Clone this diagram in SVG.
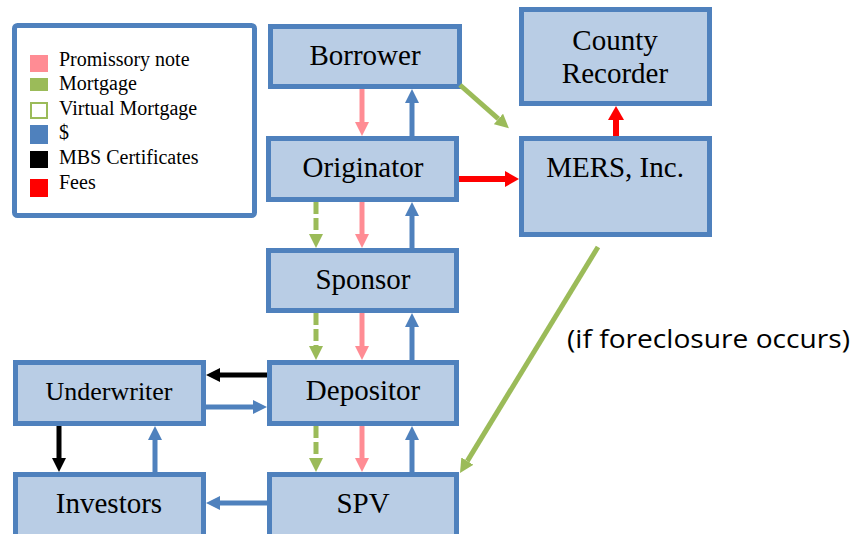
<svg xmlns="http://www.w3.org/2000/svg" width="854" height="534" viewBox="0 0 854 534">
<style>
.box{fill:#B9CDE5;stroke:#4F81BD;stroke-width:5}
.t{font-family:"Liberation Serif","Times New Roman",serif;font-size:29px;fill:#000;text-anchor:middle}
.lg{font-family:"Liberation Serif","Times New Roman",serif;font-size:20px;fill:#000}
.a{fill:none;stroke-width:5}
.pink{stroke:#FF8C94}
.green{stroke:#9BBB59}
.blue{stroke:#4F81BD}
.black{stroke:#000}
.red{stroke:#FF0000;stroke-width:6}
.dash{stroke-dasharray:12 4}
</style>
<defs>
<marker id="hp" markerUnits="userSpaceOnUse" markerWidth="14" markerHeight="14" refX="0" refY="7" orient="auto"><path d="M0,0 L14,7 L0,14 z" fill="#FF8C94"/></marker>
<marker id="hg" markerUnits="userSpaceOnUse" markerWidth="14" markerHeight="14" refX="0" refY="7" orient="auto"><path d="M0,0 L14,7 L0,14 z" fill="#9BBB59"/></marker>
<marker id="hb" markerUnits="userSpaceOnUse" markerWidth="14" markerHeight="14" refX="0" refY="7" orient="auto"><path d="M0,0 L14,7 L0,14 z" fill="#4F81BD"/></marker>
<marker id="hk" markerUnits="userSpaceOnUse" markerWidth="14" markerHeight="14" refX="0" refY="7" orient="auto"><path d="M0,0 L14,7 L0,14 z" fill="#000"/></marker>
<marker id="hr" markerUnits="userSpaceOnUse" markerWidth="16" markerHeight="16" refX="0" refY="8" orient="auto"><path d="M0,0 L14,8 L0,16 z" fill="#FF0000"/></marker>
</defs>

<g id="legend">
<rect x="14.5" y="25.5" width="240" height="190" rx="3" fill="#fff" stroke="#4F81BD" stroke-width="5"/>
<rect x="30" y="55" width="18" height="17" fill="#FF8C94"/>
<text class="lg" x="59" y="66">Promissory note</text>
<rect x="30" y="78" width="18" height="13" fill="#9BBB59"/>
<text class="lg" x="59" y="90">Mortgage</text>
<rect x="31" y="103" width="16" height="15" fill="#fff" stroke="#9BBB59" stroke-width="2"/>
<text class="lg" x="59" y="115">Virtual Mortgage</text>
<rect x="30" y="125" width="18" height="19" fill="#4F81BD"/>
<text class="lg" x="59" y="139">$</text>
<rect x="30" y="151" width="18" height="17" fill="#000"/>
<text class="lg" x="59" y="164">MBS Certificates</text>
<rect x="30" y="179" width="18" height="18" fill="#FF0000"/>
<text class="lg" x="59" y="189">Fees</text>
</g>

<g id="borrower"><rect class="box" x="270.5" y="26.5" width="189" height="60"/><text class="t" x="365" y="65">Borrower</text></g>
<g id="originator"><rect class="box" x="268.5" y="138.5" width="188" height="61"/><text class="t" x="363" y="177">Originator</text></g>
<g id="sponsor"><rect class="box" x="268.5" y="250.5" width="188" height="60"/><text class="t" x="363" y="289">Sponsor</text></g>
<g id="depositor"><rect class="box" x="269.5" y="362.5" width="187" height="61"/><text class="t" x="363" y="400">Depositor</text></g>
<g id="spv"><rect class="box" x="269.5" y="474.5" width="187" height="70"/><text class="t" x="363" y="513">SPV</text></g>
<g id="underwriter"><rect class="box" x="15.5" y="362.5" width="188" height="61"/><text class="t" x="109" y="400" style="font-size:26px">Underwriter</text></g>
<g id="investors"><rect class="box" x="15.5" y="474.5" width="188" height="70"/><text class="t" x="109" y="513">Investors</text></g>
<g id="county-recorder"><rect class="box" x="521.5" y="9.5" width="188" height="94"/><text class="t" x="615" y="50">County</text><text class="t" x="615" y="83">Recorder</text></g>
<g id="mers"><rect class="box" x="521.5" y="138.5" width="188" height="96"/><text class="t" x="615" y="177">MERS, Inc.</text></g>

<text id="note" x="567" y="348" textLength="283" lengthAdjust="spacingAndGlyphs" style="font-family:'Open Sans','Liberation Sans',sans-serif;font-size:25px;fill:#000">(if foreclosure occurs)</text>

<g id="connectors">
<line class="a pink" x1="362" y1="89" x2="362" y2="122" marker-end="url(#hp)"/>
<line class="a blue" x1="412" y1="136" x2="412" y2="103" marker-end="url(#hb)"/>

<line class="a green dash" x1="316" y1="202" x2="316" y2="234" marker-end="url(#hg)"/>
<line class="a pink" x1="362" y1="202" x2="362" y2="234" marker-end="url(#hp)"/>
<line class="a blue" x1="412" y1="248" x2="412" y2="216" marker-end="url(#hb)"/>

<line class="a green dash" x1="316" y1="313" x2="316" y2="346" marker-end="url(#hg)"/>
<line class="a pink" x1="362" y1="313" x2="362" y2="346" marker-end="url(#hp)"/>
<line class="a blue" x1="412" y1="360" x2="412" y2="327" marker-end="url(#hb)"/>

<line class="a green dash" x1="316" y1="426" x2="316" y2="458" marker-end="url(#hg)"/>
<line class="a pink" x1="362" y1="426" x2="362" y2="458" marker-end="url(#hp)"/>
<line class="a blue" x1="412" y1="472" x2="412" y2="440" marker-end="url(#hb)"/>

<line class="a black" x1="59" y1="426" x2="59" y2="458" marker-end="url(#hk)"/>
<line class="a blue" x1="155" y1="472" x2="155" y2="440" marker-end="url(#hb)"/>

<line class="a black" x1="267" y1="375" x2="220" y2="375" marker-end="url(#hk)"/>
<line class="a blue" x1="206" y1="407" x2="253" y2="407" marker-end="url(#hb)"/>
<line class="a blue" x1="267" y1="503" x2="220" y2="503" marker-end="url(#hb)"/>

<line class="a red" x1="459" y1="179" x2="505" y2="179" marker-end="url(#hr)"/>
<line class="a red" x1="616" y1="136" x2="616" y2="120" marker-end="url(#hr)"/>

<line class="a green" x1="460" y1="85" x2="498.4" y2="118.9" marker-end="url(#hg)"/>
<line class="a green" x1="598" y1="247" x2="467.3" y2="461.1" marker-end="url(#hg)"/>
</g>
</svg>
